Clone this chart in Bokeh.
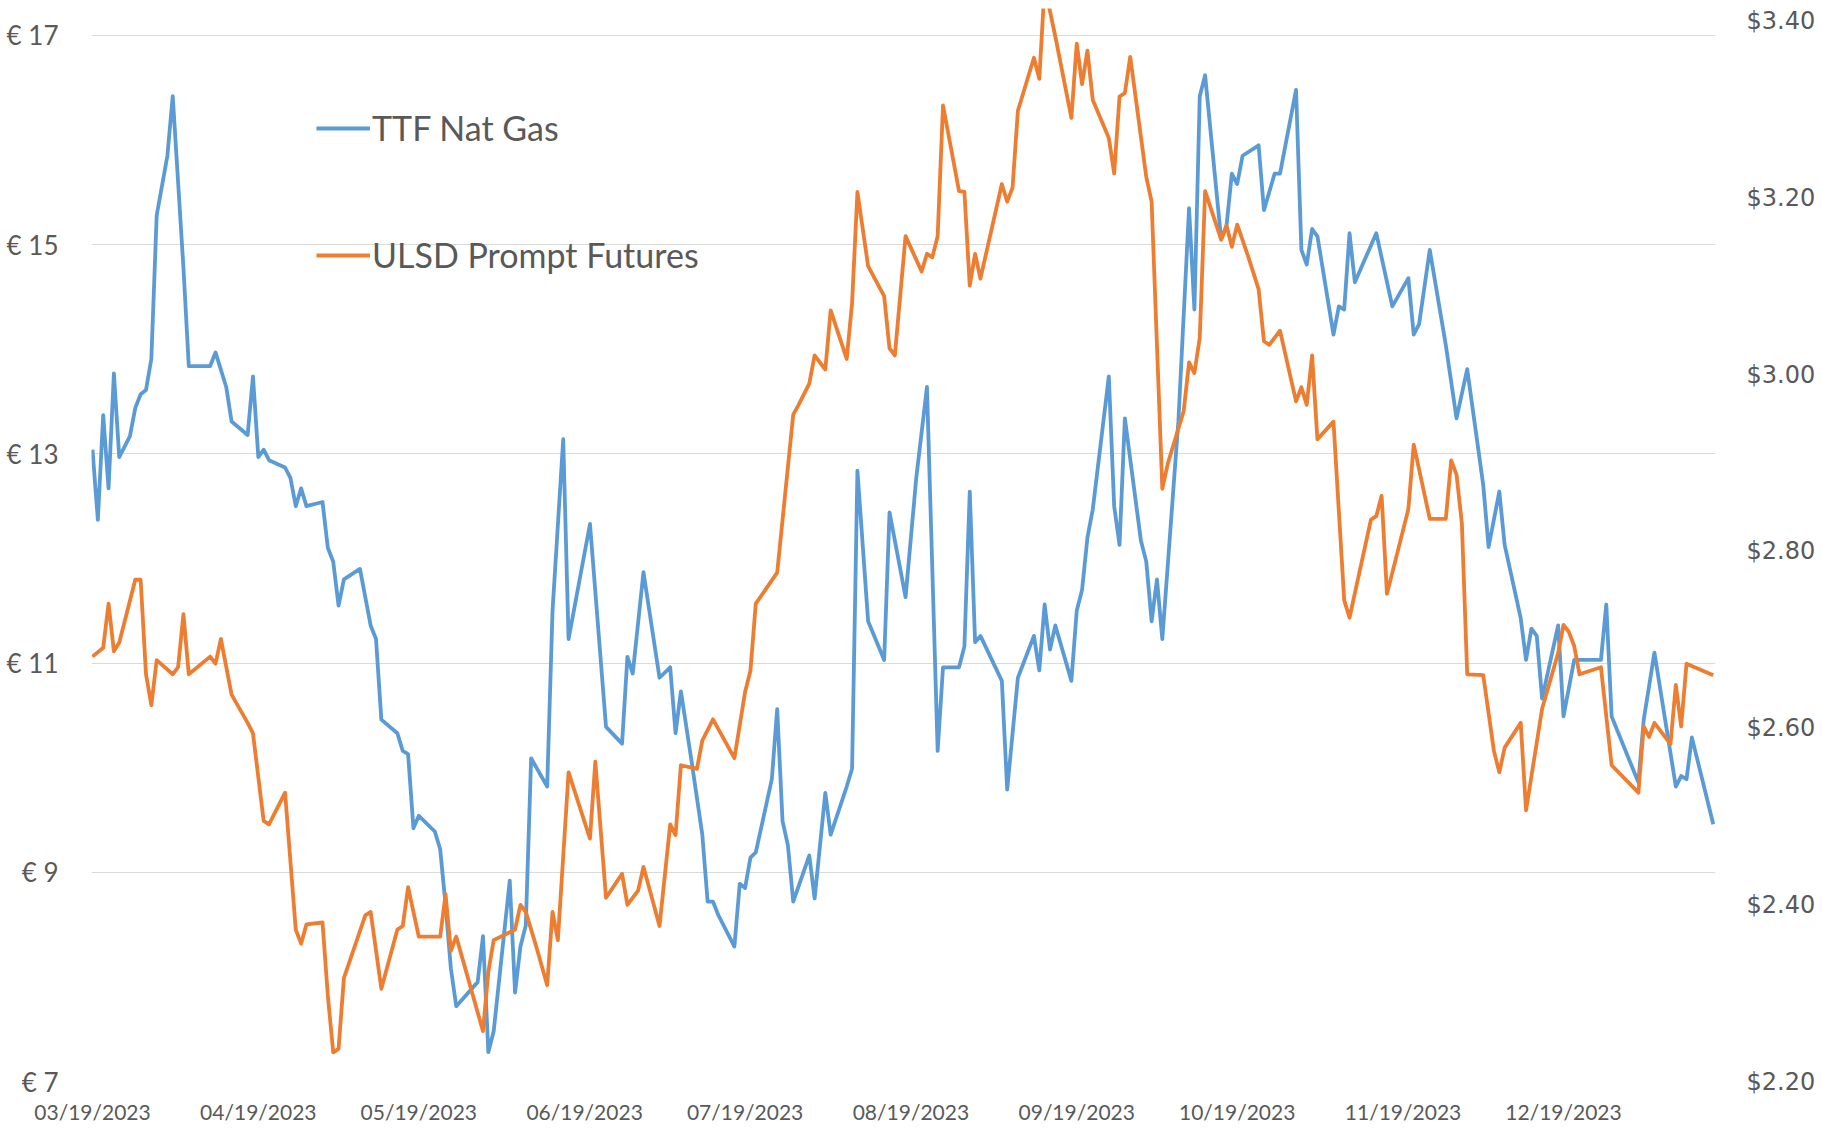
import pandas as pd
from bokeh.plotting import figure
from bokeh.models import (ColumnDataSource, Range1d, LinearAxis, FixedTicker,
                          PrintfTickFormatter, DatetimeTickFormatter, Legend, LegendItem)
from bokeh.embed import file_html
from bokeh.resources import INLINE

# ---------------- data ----------------
ttf_dates = [
    "2023-03-19", "2023-03-20", "2023-03-21", "2023-03-22", "2023-03-23", "2023-03-24",
    "2023-03-26", "2023-03-27", "2023-03-28", "2023-03-29", "2023-03-30", "2023-03-31",
    "2023-04-02", "2023-04-03", "2023-04-05", "2023-04-06", "2023-04-10", "2023-04-11",
    "2023-04-13", "2023-04-14", "2023-04-17", "2023-04-18", "2023-04-19", "2023-04-20",
    "2023-04-21", "2023-04-24", "2023-04-25", "2023-04-26", "2023-04-27", "2023-04-28",
    "2023-05-01", "2023-05-02", "2023-05-03", "2023-05-04", "2023-05-05", "2023-05-08",
    "2023-05-10", "2023-05-11", "2023-05-12", "2023-05-15", "2023-05-16", "2023-05-17",
    "2023-05-18", "2023-05-19", "2023-05-22", "2023-05-23", "2023-05-24", "2023-05-25",
    "2023-05-26", "2023-05-30", "2023-05-31",
    "2023-06-01", "2023-06-02", "2023-06-05", "2023-06-06", "2023-06-07", "2023-06-08",
    "2023-06-09", "2023-06-12", "2023-06-13", "2023-06-15", "2023-06-16", "2023-06-20",
    "2023-06-23", "2023-06-26", "2023-06-27", "2023-06-28", "2023-06-30",
    "2023-07-03", "2023-07-05", "2023-07-06", "2023-07-07", "2023-07-09", "2023-07-11",
    "2023-07-12", "2023-07-13", "2023-07-14", "2023-07-17", "2023-07-18", "2023-07-19",
    "2023-07-20", "2023-07-21", "2023-07-24", "2023-07-25", "2023-07-26", "2023-07-27",
    "2023-07-28", "2023-07-31",
    "2023-08-01", "2023-08-03", "2023-08-04", "2023-08-07", "2023-08-08", "2023-08-09",
    "2023-08-11", "2023-08-14", "2023-08-15", "2023-08-18", "2023-08-20", "2023-08-22",
    "2023-08-24", "2023-08-25", "2023-08-28", "2023-08-29", "2023-08-30", "2023-08-31",
    "2023-09-01", "2023-09-05", "2023-09-06", "2023-09-08", "2023-09-11", "2023-09-12",
    "2023-09-13", "2023-09-14", "2023-09-15", "2023-09-18", "2023-09-19", "2023-09-20",
    "2023-09-21", "2023-09-22", "2023-09-25", "2023-09-26", "2023-09-27", "2023-09-28",
    "2023-10-01", "2023-10-02", "2023-10-03", "2023-10-04", "2023-10-05", "2023-10-08",
    "2023-10-10", "2023-10-11", "2023-10-12", "2023-10-13", "2023-10-16", "2023-10-17",
    "2023-10-18", "2023-10-19", "2023-10-20", "2023-10-23", "2023-10-24", "2023-10-26",
    "2023-10-27", "2023-10-30", "2023-10-31",
    "2023-11-01", "2023-11-02", "2023-11-03", "2023-11-06", "2023-11-07", "2023-11-08",
    "2023-11-09", "2023-11-10", "2023-11-14", "2023-11-17", "2023-11-20", "2023-11-21",
    "2023-11-22", "2023-11-24", "2023-11-27", "2023-11-29",
    "2023-12-01", "2023-12-04", "2023-12-05", "2023-12-07", "2023-12-08", "2023-12-11",
    "2023-12-12", "2023-12-13", "2023-12-14", "2023-12-15", "2023-12-18", "2023-12-19",
    "2023-12-21", "2023-12-26", "2023-12-27", "2023-12-28",
    "2024-01-02", "2024-01-03", "2024-01-05", "2024-01-09", "2024-01-10", "2024-01-11",
    "2024-01-12", "2024-01-16",
]
ttf_eur = [
    13.04, 12.37, 13.37, 12.67, 13.77, 12.97,
    13.17, 13.44, 13.57, 13.61, 13.91, 15.28,
    15.85, 16.42, 14.78, 13.84, 13.84, 13.97,
    13.64, 13.31, 13.18, 13.74, 12.97, 13.04,
    12.94, 12.87, 12.77, 12.50, 12.67, 12.50,
    12.54, 12.10, 11.97, 11.55, 11.80, 11.90,
    11.36, 11.23, 10.46, 10.33, 10.16, 10.13,
    9.42, 9.54, 9.39, 9.22, 8.69, 8.08,
    7.72, 7.95, 8.39,
    7.28, 7.48, 8.92, 7.85, 8.29, 8.49,
    10.09, 9.82, 11.50, 13.14, 11.23, 12.33,
    10.39, 10.23, 11.06, 10.90, 11.87,
    10.86, 10.96, 10.33, 10.73, 10.06, 9.36,
    8.72, 8.72, 8.59, 8.29, 8.89, 8.85,
    9.14, 9.19, 9.89, 10.56, 9.49, 9.26,
    8.72, 9.16,
    8.75, 9.76, 9.36, 9.82, 9.99, 12.84,
    11.40, 11.03, 12.44, 11.63, 12.77, 13.64,
    10.16, 10.96, 10.96, 11.16, 12.64, 11.20,
    11.26, 10.83, 9.79, 10.86, 11.26, 10.93,
    11.56, 11.13, 11.36, 10.83, 11.50, 11.70,
    12.20, 12.47, 13.74, 12.50, 12.13, 13.34,
    12.17, 11.97, 11.40, 11.80, 11.23, 13.31,
    15.35, 14.38, 16.42, 16.62, 15.05, 15.18,
    15.68, 15.58, 15.85, 15.95, 15.33, 15.68,
    15.68, 16.48, 14.95,
    14.81, 15.15, 15.08, 14.14, 14.41, 14.38,
    15.11, 14.64, 15.11, 14.41, 14.68, 14.14,
    14.24, 14.95, 14.04, 13.34,
    13.81, 12.70, 12.11, 12.64, 12.13, 11.43,
    11.03, 11.33, 11.26, 10.66, 11.36, 10.49,
    11.03, 11.03, 11.56, 10.49,
    9.86, 10.46, 11.10, 9.82, 9.92, 9.89,
    10.29, 9.46,
]

ulsd_dates = [
    "2023-03-19", "2023-03-21", "2023-03-22", "2023-03-23", "2023-03-24", "2023-03-27",
    "2023-03-28", "2023-03-29", "2023-03-30", "2023-03-31",
    "2023-04-03", "2023-04-04", "2023-04-05", "2023-04-06", "2023-04-10", "2023-04-11",
    "2023-04-12", "2023-04-14", "2023-04-17", "2023-04-18", "2023-04-20", "2023-04-21",
    "2023-04-24", "2023-04-26", "2023-04-27", "2023-04-28",
    "2023-05-01", "2023-05-02", "2023-05-03", "2023-05-04", "2023-05-05", "2023-05-09",
    "2023-05-10", "2023-05-12", "2023-05-15", "2023-05-16", "2023-05-17", "2023-05-19",
    "2023-05-23", "2023-05-24", "2023-05-25", "2023-05-26", "2023-05-31",
    "2023-06-01", "2023-06-02", "2023-06-06", "2023-06-07", "2023-06-08", "2023-06-10",
    "2023-06-12", "2023-06-13", "2023-06-14", "2023-06-16", "2023-06-20", "2023-06-21",
    "2023-06-23", "2023-06-26", "2023-06-27", "2023-06-29", "2023-06-30",
    "2023-07-03", "2023-07-05", "2023-07-06", "2023-07-07", "2023-07-10", "2023-07-11",
    "2023-07-13", "2023-07-17", "2023-07-19", "2023-07-20", "2023-07-21", "2023-07-25",
    "2023-07-28", "2023-07-29", "2023-07-31",
    "2023-08-01", "2023-08-03", "2023-08-04", "2023-08-07", "2023-08-08", "2023-08-09",
    "2023-08-11", "2023-08-14", "2023-08-15", "2023-08-16", "2023-08-18", "2023-08-21",
    "2023-08-22", "2023-08-23", "2023-08-24", "2023-08-25", "2023-08-28", "2023-08-29",
    "2023-08-30", "2023-08-31",
    "2023-09-01", "2023-09-05", "2023-09-06", "2023-09-07", "2023-09-08", "2023-09-11",
    "2023-09-12", "2023-09-13", "2023-09-15", "2023-09-18", "2023-09-19", "2023-09-20",
    "2023-09-21", "2023-09-22", "2023-09-25", "2023-09-26", "2023-09-27", "2023-09-28",
    "2023-09-29",
    "2023-10-02", "2023-10-03", "2023-10-05", "2023-10-06", "2023-10-09", "2023-10-10",
    "2023-10-11", "2023-10-12", "2023-10-13", "2023-10-16", "2023-10-17", "2023-10-18",
    "2023-10-19", "2023-10-21", "2023-10-23", "2023-10-24", "2023-10-25", "2023-10-27",
    "2023-10-30", "2023-10-31",
    "2023-11-01", "2023-11-02", "2023-11-03", "2023-11-06", "2023-11-08", "2023-11-09",
    "2023-11-13", "2023-11-14", "2023-11-15", "2023-11-16", "2023-11-20", "2023-11-21",
    "2023-11-24", "2023-11-27", "2023-11-28", "2023-11-29", "2023-11-30",
    "2023-12-01", "2023-12-04", "2023-12-06", "2023-12-07", "2023-12-08", "2023-12-11",
    "2023-12-12", "2023-12-15", "2023-12-18", "2023-12-19", "2023-12-20", "2023-12-21",
    "2023-12-22", "2023-12-26", "2023-12-28",
    "2024-01-02", "2024-01-03", "2024-01-04", "2024-01-05", "2024-01-08", "2024-01-09",
    "2024-01-10", "2024-01-11", "2024-01-16",
]
ulsd_usd = [
    2.681, 2.691, 2.741, 2.687, 2.697, 2.768,
    2.768, 2.661, 2.626, 2.677,
    2.661, 2.669, 2.729, 2.661, 2.681, 2.673,
    2.701, 2.638, 2.606, 2.594, 2.495, 2.491,
    2.527, 2.372, 2.356, 2.378,
    2.380, 2.297, 2.233, 2.237, 2.317, 2.388,
    2.392, 2.305, 2.372, 2.376, 2.420, 2.364,
    2.364, 2.412, 2.348, 2.364, 2.257,
    2.324, 2.360, 2.372, 2.400, 2.392, 2.352,
    2.309, 2.392, 2.360, 2.550, 2.475, 2.562,
    2.408, 2.435, 2.400, 2.416, 2.443,
    2.376, 2.491, 2.479, 2.558, 2.554, 2.586,
    2.610, 2.566, 2.641, 2.665, 2.741, 2.776,
    2.955, 2.966, 2.990,
    3.022, 3.006, 3.073, 3.018, 3.081, 3.207,
    3.123, 3.089, 3.030, 3.022, 3.157, 3.117,
    3.137, 3.133, 3.157, 3.305, 3.208, 3.207,
    3.101, 3.137,
    3.109, 3.216, 3.196, 3.212, 3.299, 3.359,
    3.335, 3.440, 3.383, 3.291, 3.375, 3.329,
    3.367, 3.311, 3.268, 3.228, 3.315, 3.319,
    3.360,
    3.224, 3.196, 2.871, 2.899, 2.959, 3.014,
    3.002, 3.042, 3.208, 3.153, 3.169, 3.145,
    3.170, 3.135, 3.097, 3.038, 3.034, 3.050,
    2.970, 2.986,
    2.966, 3.022, 2.927, 2.947, 2.745, 2.725,
    2.836, 2.840, 2.863, 2.752, 2.848, 2.921,
    2.837, 2.837, 2.903, 2.887, 2.832,
    2.661, 2.660, 2.574, 2.550, 2.578, 2.606,
    2.507, 2.622, 2.685, 2.717, 2.709, 2.693,
    2.661, 2.669, 2.558,
    2.527, 2.602, 2.590, 2.606, 2.582, 2.649,
    2.602, 2.673, 2.660,
]

series_names = ["TTF Nat Gas", "ULSD Prompt Futures"]
eur_ticks = [7, 9, 11, 13, 15, 17]
usd_ticks = [2.20, 2.40, 2.60, 2.80, 3.00, 3.20, 3.40]
date_ticks = ["2023-03-19", "2023-04-19", "2023-05-19", "2023-06-19", "2023-07-19",
              "2023-08-19", "2023-09-19", "2023-10-19", "2023-11-19", "2023-12-19"]

# ---------------- figure ----------------
BLUE = "#5B9BD5"
ORANGE = "#ED7D31"
GREY = "#595959"

ttf_src = ColumnDataSource(dict(date=pd.to_datetime(ttf_dates), v=ttf_eur))
ulsd_src = ColumnDataSource(dict(date=pd.to_datetime(ulsd_dates), v=ulsd_usd))

x_start = pd.Timestamp("2023-03-19") - pd.Timedelta(hours=4.5)
x_end = pd.Timestamp("2024-01-16") + pd.Timedelta(hours=10)

p = figure(width=1820, height=1126, x_axis_type="datetime",
           x_range=Range1d(x_start, x_end), y_range=Range1d(7, 17.258),
           output_backend="svg", toolbar_location=None,
           min_border_left=91, min_border_right=105, min_border_top=8, min_border_bottom=43)
p.outline_line_color = None
p.background_fill_color = "white"
p.border_fill_color = "white"

p.extra_y_ranges = {"usd": Range1d(2.20, 3.4147)}

# grid
p.xgrid.grid_line_color = None
p.ygrid.grid_line_color = "#DADADA"
p.ygrid.grid_line_width = 1.2
p.ygrid.ticker = FixedTicker(ticks=eur_ticks)

# left axis
ya = p.yaxis[0]
ya.ticker = FixedTicker(ticks=eur_ticks)
ya.formatter = PrintfTickFormatter(format="€ %d")
ya.axis_line_color = None
ya.major_tick_line_color = None
ya.minor_tick_line_color = None
ya.major_tick_out = 0
ya.major_tick_in = 0
ya.major_label_standoff = 33
ya.major_label_text_font = "Lato"
ya.major_label_text_font_size = "26px"
ya.major_label_text_color = GREY

# right axis
ra = LinearAxis(y_range_name="usd", ticker=FixedTicker(ticks=usd_ticks),
                formatter=PrintfTickFormatter(format="$%.2f"))
ra.axis_line_color = None
ra.major_tick_line_color = None
ra.minor_tick_line_color = None
ra.major_tick_out = 0
ra.major_tick_in = 0
ra.major_label_standoff = 31
ra.major_label_text_font = "DejaVu Sans"
ra.major_label_text_font_size = "24px"
ra.major_label_text_color = GREY
p.add_layout(ra, "right")

# bottom axis
xa = p.xaxis[0]
xa.ticker = FixedTicker(ticks=[pd.Timestamp(d).value / 1e6 for d in date_ticks])
xa.formatter = DatetimeTickFormatter(days="%m/%d/%Y", months="%m/%d/%Y", years="%m/%d/%Y")
xa.axis_line_color = None
xa.major_tick_line_color = None
xa.minor_tick_line_color = None
xa.major_tick_out = 0
xa.major_tick_in = 0
xa.major_label_standoff = 17
xa.major_label_text_font = "Lato"
xa.major_label_text_font_size = "21px"
xa.major_label_text_color = GREY

# lines
r_ttf = p.line("date", "v", source=ttf_src, line_color=BLUE, line_width=3.8,
               line_join="round")
r_ulsd = p.line("date", "v", source=ulsd_src, line_color=ORANGE, line_width=3.8,
                line_join="round", y_range_name="usd")

legend = Legend(items=[LegendItem(label=series_names[0], renderers=[r_ttf]),
                       LegendItem(label=series_names[1], renderers=[r_ulsd])],
                location=(225, 806))
legend.border_line_color = None
legend.background_fill_alpha = 0
legend.padding = 0
legend.margin = 0
legend.glyph_width = 54
legend.glyph_height = 20
legend.label_standoff = 2
legend.spacing = 86
legend.label_text_font = "Lato"
legend.label_text_font_size = "34px"
legend.label_text_color = GREY
p.add_layout(legend, "center")

open("out.html", "w").write(file_html(p, INLINE))
